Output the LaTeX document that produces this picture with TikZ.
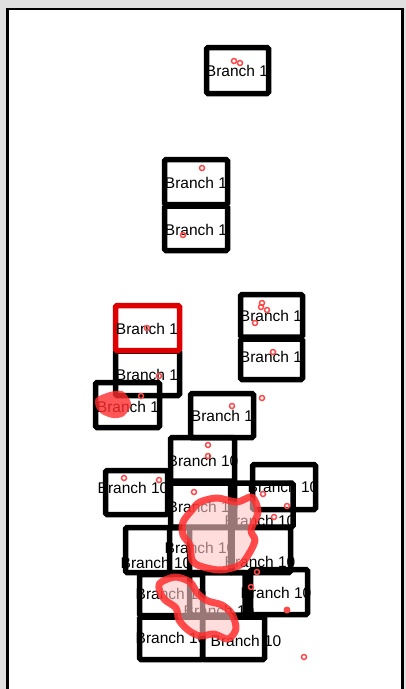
\documentclass[tikz,border=0pt]{standalone}
\usepackage{fontspec}
\setmainfont{Liberation Sans}
\usetikzlibrary{positioning}
\definecolor{hitred}{RGB}{250,75,75}
\definecolor{selred}{RGB}{222,0,0}
\definecolor{cloudred}{RGB}{255,45,45}
\definecolor{pagegray}{RGB}{224,224,224}
\tikzstyle{brbox} = [draw, line width=5.5pt, rounded corners=1.5pt, inner sep=0pt,
minimum width=63pt, minimum height=45pt]
\tikzstyle{brsel} = [brbox, draw=selred]
\tikzstyle{brtext} = [inner sep=0pt, font=\fontsize{15.5}{18}\selectfont]
\tikzstyle{hit} = [draw=hitred, line width=1.5pt]
\tikzstyle{blob} = [draw=cloudred, fill=red!22, line width=7pt, line join=round,
draw opacity=0.85, fill opacity=0.6]

\begin{document}
\begin{tikzpicture}[x=1pt,y=-1pt]
\useasboundingbox (0,0) rectangle (406,689);
\clip (0,0) rectangle (406,689);
\fill[pagegray] (0,0) rectangle (406,689);
\draw[fill=white, line width=2.5pt] (7.5,9) rectangle (402.5,700);

% branch 1 boxes
\node[brbox, minimum width=62pt, minimum height=46pt] (b1) at (237.5,70.5) {};
\node[brbox] (b2) at (196,182) {};
\node[brbox, minimum height=44.5pt] (b3) at (196,228.25) {};
\node[brbox, minimum width=64pt, minimum height=44.5pt] (b5) at (147.5,373.25) {};
\node[brbox, minimum width=64pt] (b6) at (127.5,405) {};
\node[brbox, minimum width=62pt, minimum height=42.5pt] (b7) at (271.5,315.75) {};
\node[brbox, minimum width=62pt, minimum height=40.5pt] (b8) at (271.5,359.25) {};
\node[brbox, minimum height=44pt] (b9) at (222,415.5) {};

% branch 10 boxes
\node[brbox, minimum width=64pt, minimum height=43.5pt] (b10) at (202.5,459.25) {};
\node[brbox, minimum width=62pt, minimum height=44pt] (b11) at (136.5,492.5) {};
\node[brbox] (b12) at (284,487) {};
\node[brbox, minimum width=64pt, minimum height=44pt] (b13) at (202.5,505) {};
\node[brbox, minimum width=62.5pt, minimum height=44pt] (b14) at (261.75,505) {};
\node[brbox, minimum width=62.5pt] (b15) at (200.75,550) {};
\node[brbox, minimum width=64pt] (b16) at (157.5,550) {};
\node[brbox, minimum width=60pt] (b17) at (260.5,550) {};
\node[brbox, minimum width=57pt] (b18) at (279,592) {};
\node[brbox, minimum height=41pt] (b19) at (171,595) {};
\node[brbox, minimum width=55.5pt, minimum height=42.5pt] (b20) at (217.25,593.75) {};
\node[brbox, minimum height=42.5pt] (b21) at (171,638.25) {};
\node[brbox, minimum width=62pt, minimum height=42.5pt] (b22) at (233.5,638.25) {};

% labels
\node[brtext] (l1) at (237,71) {Branch 1};
\node[brtext] (l2) at (196,183) {Branch 1};
\node[brtext] (l3) at (196,230) {Branch 1};
\node[brtext] (l5) at (147,375) {Branch 1};
\node[brtext] (l6) at (128,407) {Branch 1};
\node[brtext] (l7) at (271,316) {Branch 1};
\node[brtext] (l8) at (271,357) {Branch 1};
\node[brtext] (l9) at (222,416) {Branch 1};
\node[brtext] (l10) at (203,461) {Branch 10};
\node[brtext] (l11) at (133,488) {Branch 10};
\node[brtext] (l12) at (283,487) {Branch 10};
\node[brtext] (l13) at (203,507) {Branch 10};
\node[brtext] (l14) at (260,521) {Branch 10};
\node[brtext] (l15) at (200,548) {Branch 10};
\node[brtext] (l16) at (156,563) {Branch 10};
\node[brtext] (l17) at (260,562) {Branch 10};
\node[brtext] (l18) at (276,593) {Branch 10};
\node[brtext] (l19) at (171,594) {Branch 10};
\node[brtext] (l20) at (219,611) {Branch 10};
\node[brtext] (l21) at (171,638) {Branch 10};
\node[brtext] (l22) at (246,641) {Branch 10};

% selected box
\node[brsel, minimum width=64pt] (b4) at (147.5,328) {};
\node[brtext] (l4) at (147,329) {Branch 1};

% hit clouds
\fill[cloudred, opacity=0.8] plot[smooth cycle] coordinates {(96,398) (110,392) (122,391) (128,397) (131,405) (124,416) (113,418) (102,414) (96,407)};
\draw[blob] plot[smooth cycle] coordinates {(200,502) (217,498) (237,502) (252,497) (258,512) (251,530) (255,540) (250,552) (240,565) (220,570) (200,566) (192,560) (190,545) (183,535) (183,522) (192,510)};
\draw[blob] plot[smooth cycle] coordinates {(160,583) (175,577) (190,582) (198,594) (208,601) (222,605) (232,614) (236,629) (228,639) (214,634) (200,636) (188,630) (179,620) (176,608) (165,600) (160,592)};

% single hits
\foreach \p in {(234,61),(240,63),(202,168),(183,235),(147,328),(159,376),(141,396),
  (262,303),(261,307),(267,310),(255,323),(273,352),(232,406),(262,398),
  (208,445),(208,456),(124,478),(159,480),(194,492),(263,494),(287,506),(274,517),
  (257,572),(251,587),(304,657)}
  \draw[hit] \p circle (2.5);
\fill[hitred] (287,610) circle (3.5);
\end{tikzpicture}
\end{document}
